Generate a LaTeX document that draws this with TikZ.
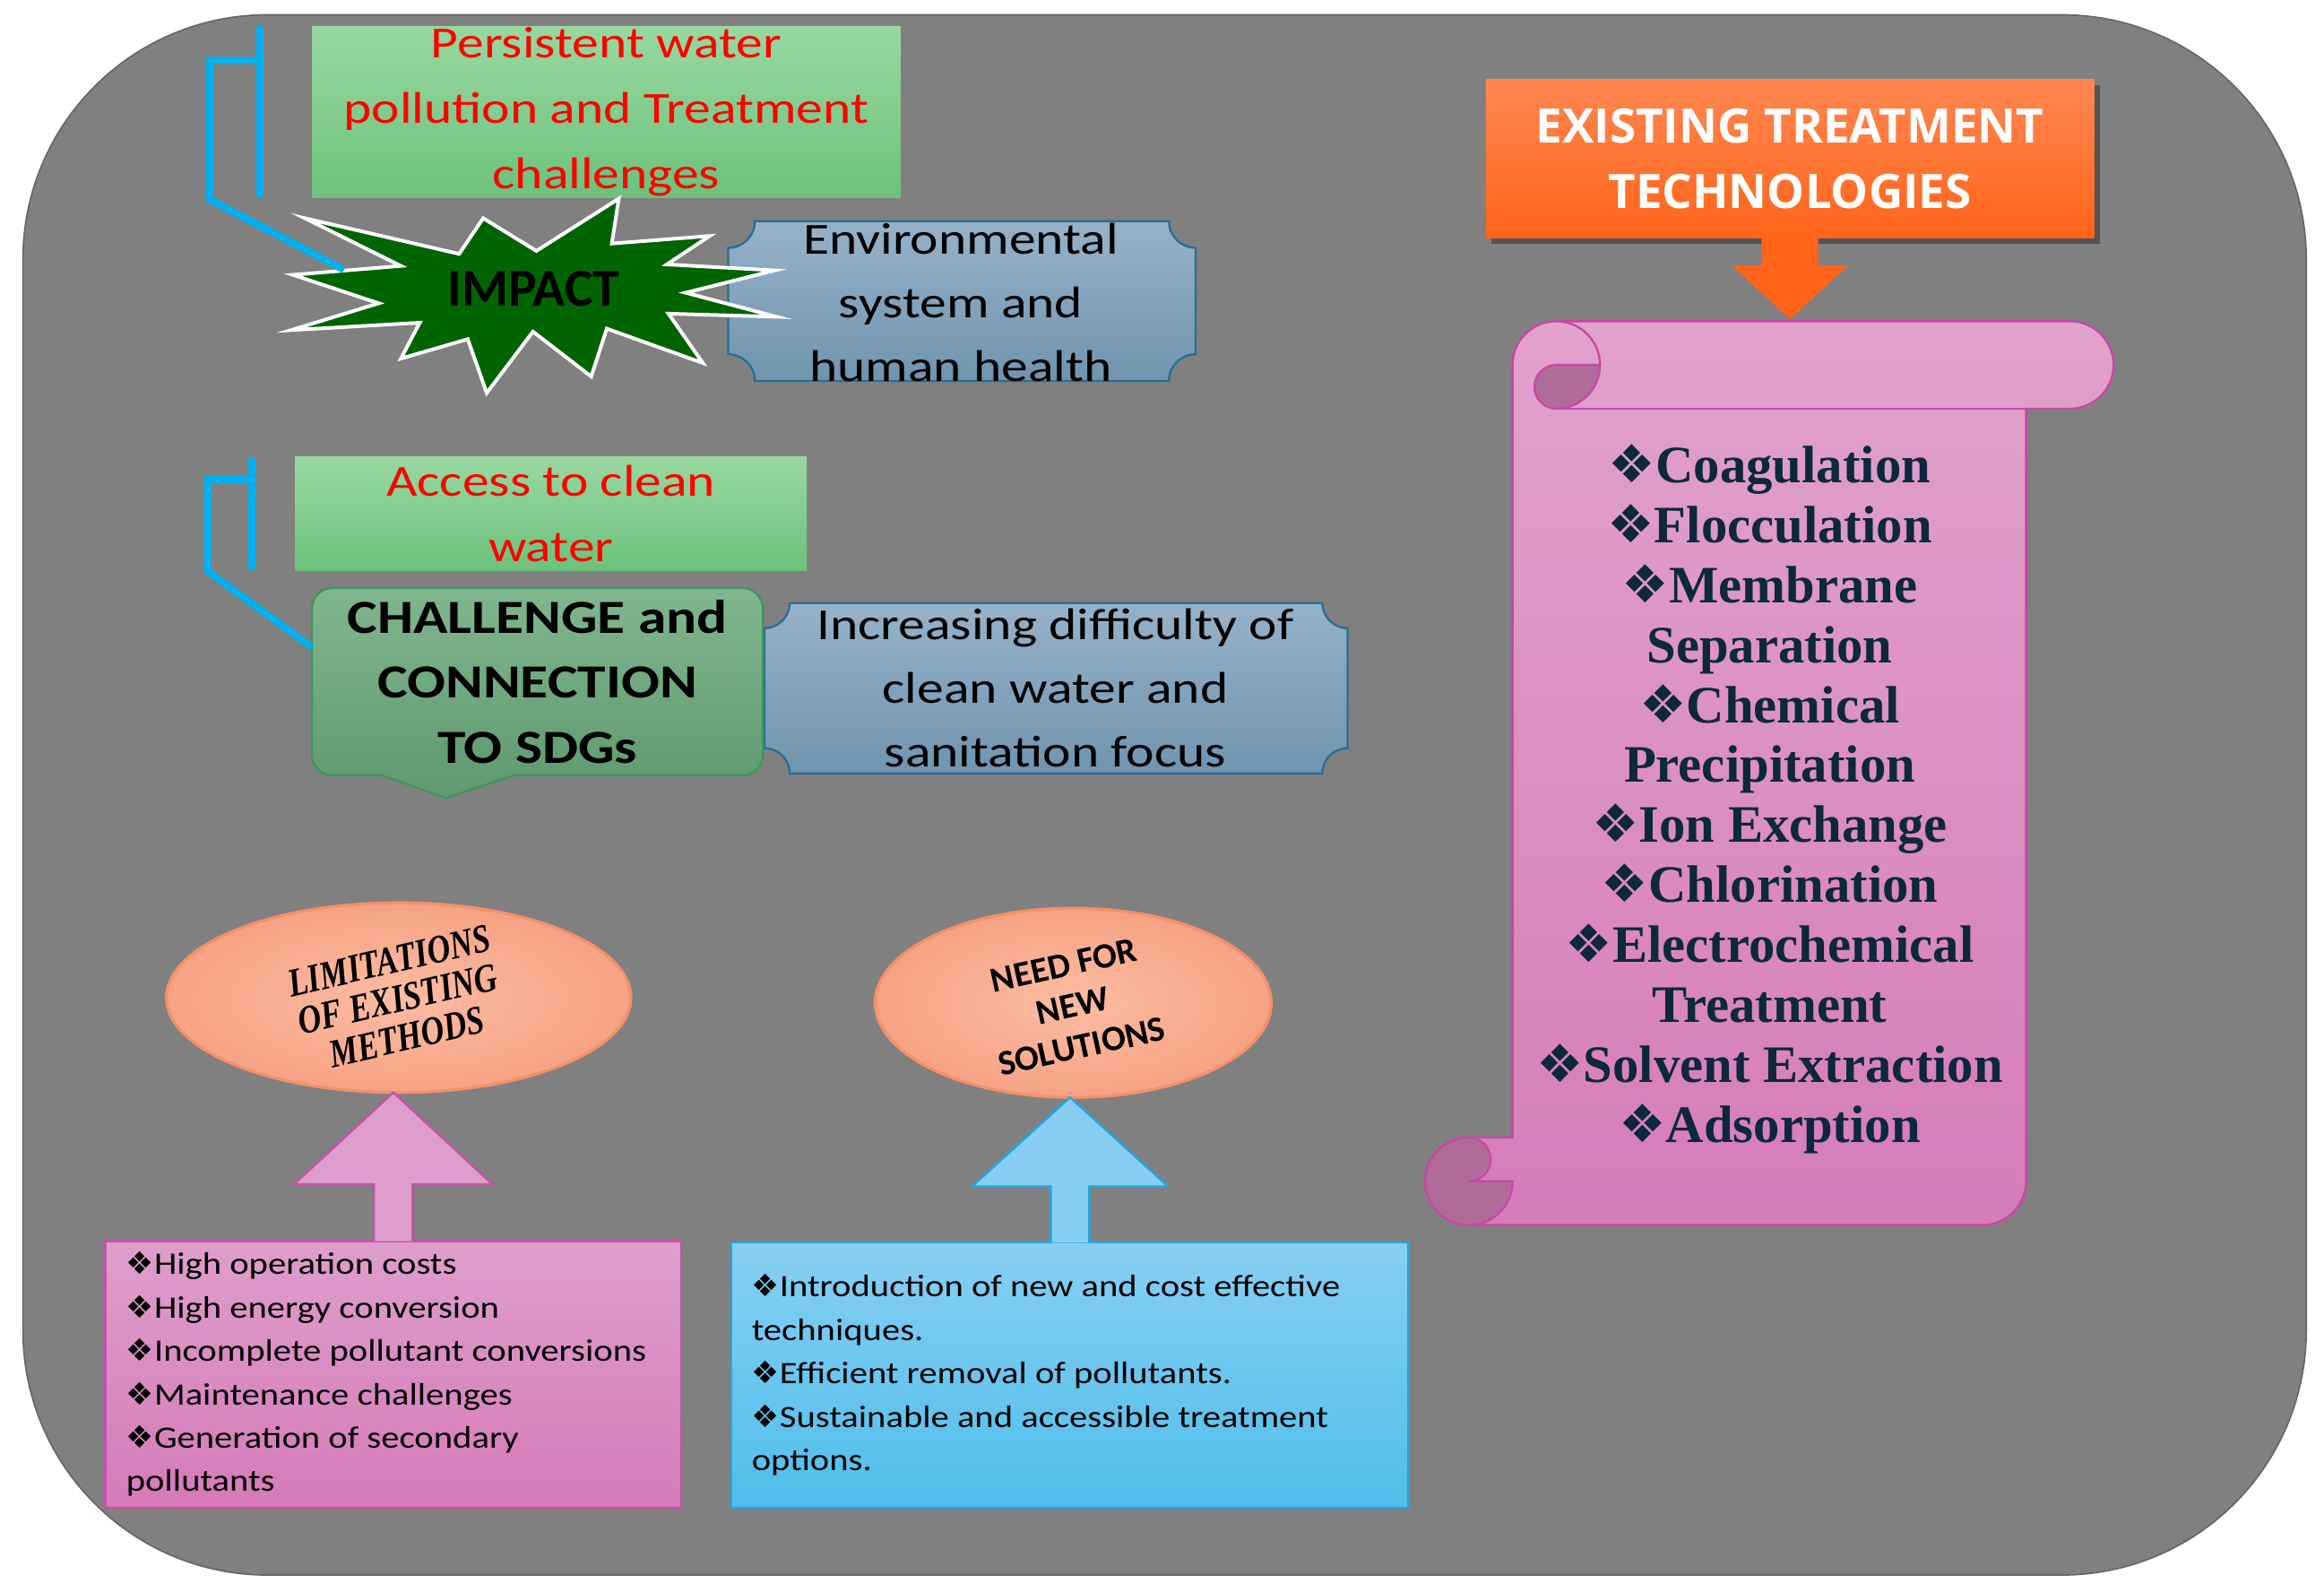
\documentclass[tikz,border=0pt]{standalone}
\usepackage{fontspec}
\setmainfont{Carlito}
\newfontfamily\carw[FakeStretch=1.2]{Carlito}
\newfontfamily\carl[FakeStretch=1.17]{Carlito}
\newfontfamily\opsans{Open Sans}
\newfontfamily\libser{Liberation Serif}
\newfontfamily\libserc[FakeStretch=0.8]{Liberation Serif}
\newfontfamily\dejavu{DejaVu Sans}
\usetikzlibrary{shapes.geometric,calc}
\definecolor{bggray}{RGB}{128,128,128}
\definecolor{greentop}{RGB}{152,216,160}
\definecolor{greenbot}{RGB}{108,194,124}
\definecolor{redtxt}{RGB}{255,0,0}
\definecolor{barblue}{RGB}{0,176,240}
\definecolor{burst}{RGB}{0,100,0}
\definecolor{plaquetop}{RGB}{150,178,200}
\definecolor{plaquebot}{RGB}{112,148,176}
\definecolor{plaqueline}{RGB}{40,110,150}
\definecolor{sdgtop}{RGB}{128,182,142}
\definecolor{sdgbot}{RGB}{98,156,114}
\definecolor{sdgline}{RGB}{60,150,90}
\definecolor{orangetop}{RGB}{255,135,80}
\definecolor{orangebot}{RGB}{255,100,25}
\definecolor{scrolltop}{RGB}{225,162,204}
\definecolor{scrollbot}{RGB}{214,124,184}
\definecolor{scrolldark}{RGB}{176,108,152}
\definecolor{scrollline}{RGB}{200,70,165}
\definecolor{navy}{RGB}{12,40,60}
\definecolor{salmon}{RGB}{247,162,132}
\definecolor{salmonin}{RGB}{252,188,162}
\definecolor{salmonline}{RGB}{242,145,105}
\definecolor{pinktop}{RGB}{222,158,204}
\definecolor{pinkbot}{RGB}{213,122,184}
\definecolor{pinkline}{RGB}{200,80,170}
\definecolor{skytop}{RGB}{135,207,242}
\definecolor{skybot}{RGB}{78,190,235}
\definecolor{skyline}{RGB}{30,168,225}
\newcommand\dia{{\dejavu ❖}}
\begin{document}
\begin{tikzpicture}[y=0.5pt, x=0.5pt, yscale=-1, inner sep=0pt, outer sep=0pt,
  greenbox/.style={rectangle, top color=greentop, bottom color=greenbot, text=redtxt, align=center, font=\carw\fontsize{15}{22}\selectfont},
  bluebar/.style={draw=barblue, line width=2.4pt, line join=miter, line cap=butt},
  impactburst/.style={fill=burst, draw=white, line width=1.2pt, line join=miter},
  plaque/.style={top color=plaquetop, bottom color=plaquebot, draw=plaqueline, line width=0.7pt},
  plaquetext/.style={align=center, font=\carw\fontsize{15}{21.5}\selectfont},
  sdgstyle/.style={rectangle, rounded corners=7pt, top color=sdgtop, bottom color=sdgbot, draw=sdgline, line width=0.7pt, align=center, font=\carw\bfseries\fontsize{16}{22}\selectfont},
  ettbox/.style={rectangle, top color=orangetop, bottom color=orangebot, text=white, align=center, font=\opsans\bfseries\fontsize{16}{22.15}\selectfont},
  scrollfill/.style={top color=scrolltop, bottom color=scrollbot, draw=scrollline, line width=0.7pt},
  curl/.style={fill=scrolldark, draw=scrollline, line width=0.7pt},
  scrolltext/.style={align=center, text=navy, font=\libser\bfseries\fontsize{17.75}{20.25}\selectfont},
  salmonell/.style={ellipse, inner color=salmonin, outer color=salmon, draw=salmonline, line width=1pt},
  pinkbox/.style={rectangle, top color=pinktop, bottom color=pinkbot, draw=pinkline, line width=0.7pt},
  skybox/.style={rectangle, top color=skytop, bottom color=skybot, draw=skyline, line width=0.7pt},
  listtext/.style={align=left, font=\carl\fontsize{10.5}{14.65}\selectfont}]
\useasboundingbox (0,0) rectangle (1568,1073.4);
\path[fill=white] (0,0) rectangle (1568,1073.4);
\path[fill=bggray, draw=black!60, line width=0.5pt, rounded corners=82.5pt] (15.5,10) rectangle (1556,1062.5);

\node[greenbox, minimum width=198.45pt, minimum height=57.7pt] (pers) at (409.05,75.4) {Persistent water\\pollution and Treatment\\challenges};
\path[plaque] (509.3,149.2) -- (788.7,149.2) arc[start angle=180, end angle=90, radius=18] -- (806.7,239) arc[start angle=270, end angle=180, radius=18] -- (509.3,257) arc[start angle=0, end angle=-90, radius=18] -- (491.3,167.2) arc[start angle=90, end angle=0, radius=18] -- cycle;
\node[plaquetext] (env) at (648.3,204) {Environmental\\system and\\human health};
\path[impactburst] (205.7,147.2) -- (309.8,171.3) -- (326.0,147.2) -- (361.9,169.3) -- (417.5,134.0) -- (412.8,164.3) -- (478.8,159.2) -- (449.9,178.4) -- (522.8,182.4) -- (462.6,197.5) -- (523.9,213.7) -- (451.0,211.6) -- (474.2,244.9) -- (409.4,221.7) -- (398.9,254.0) -- (359.6,223.7) -- (328.4,265.1) -- (315.6,228.8) -- (270.5,241.9) -- (283.2,217.7) -- (196.4,222.7) -- (255.5,204.6) -- (197.6,185.4) -- (270.5,179.4) -- cycle;
\node[font=\bfseries\fontsize{18}{20}\selectfont] (impact) at (360,195) {IMPACT};
\draw[bluebar] ($(pers.north west)+(-35,0)$) -- ($(pers.south west)+(-35,0)$);
\draw[bluebar] ($(pers.north west)+(-35,23)$) -- ++(-34,0) -- ++(0,94) -- ($(impact)+(-128,-13)$);

\node[greenbox, minimum width=172.55pt, minimum height=38.1pt] (access) at (371.75,346.5) {Access to clean\\water};
\path[plaque] (532.8,406.8) -- (892.2,406.8) arc[start angle=180, end angle=90, radius=17] -- (909.2,504.7) arc[start angle=270, end angle=180, radius=17] -- (532.8,521.7) arc[start angle=0, end angle=-90, radius=17] -- (515.8,423.8) arc[start angle=90, end angle=0, radius=17] -- cycle;
\node[plaquetext] (diff) at (712,464) {Increasing difficulty of\\clean water and\\sanitation focus};
\node[sdgstyle, minimum width=152.2pt, minimum height=63.2pt] (sdgbox) at (362.6,459.9) {CHALLENGE and\\CONNECTION\\TO SDGs};
\path[fill=sdgbot] ($(sdgbox.south)+(-104.9,-2)$) -- ($(sdgbox.south)+(-104.9,0)$) -- ($(sdgbox.south)+(-61.6,15.1)$) -- ($(sdgbox.south)+(-15.8,0)$) -- ($(sdgbox.south)+(-15.8,-2)$) -- cycle;
\draw[sdgline, line width=0.7pt] ($(sdgbox.south)+(-104.9,0)$) -- ($(sdgbox.south)+(-61.6,15.1)$) -- ($(sdgbox.south)+(-15.8,0)$);
\draw[bluebar] ($(access.north west)+(-29,0)$) -- ($(access.south west)+(-29,0)$);
\draw[bluebar] ($(access.north west)+(-29,15)$) -- ++(-30,0) -- ++(0,62) -- ($(sdgbox.north west)+(0,40)$);

\path[fill=black, opacity=0.35] (1006.5,57.7) rectangle (1416.8,164.4);
\node[ettbox, minimum width=205.15pt, minimum height=53.35pt] (ett) at (1207.65,107.05) {EXISTING TREATMENT\\TECHNOLOGIES};
\path[scrollfill] (991,826.4) -- (1337.5,826.4) arc[start angle=90, end angle=0, radius=29.5] -- (1367,275.7) -- (1396.5,275.7) arc[start angle=90, end angle=-90, radius=29.5] -- (1050,216.7) arc[start angle=270, end angle=180, radius=29.5] -- (1020.5,767.4) -- (991,767.4) arc[start angle=270, end angle=90, radius=29.5] -- cycle;
\path[curl] (991,767.4) arc[start angle=270, end angle=0, radius=29.5] -- (991,796.9) arc[start angle=90, end angle=-90, radius=14.75] -- cycle;
\path[curl] (1050,246.2) arc[start angle=270, end angle=90, radius=14.75] arc[start angle=90, end angle=0, radius=29.5] -- cycle;
\draw[scrollline, line width=0.7pt] (1079.5,246.2) arc[start angle=0, end angle=-90, radius=29.5];
\draw[scrollline, line width=0.7pt] (1050,275.7) -- (1367,275.7);
\path[fill=orangebot] ($(ett.south)+(-19,0)$) |- ($(ett.south)+(-39.5,18.5)$) -- ($(ett.south)+(0,55)$) -- ($(ett.south)+(39.5,18.5)$) -| ($(ett.south)+(19,0)$) -- cycle;
\node[scrolltext] (tech) at (1194,539) {\dia Coagulation\\\dia Flocculation\\\dia Membrane\\Separation\\\dia Chemical\\Precipitation\\\dia Ion Exchange\\\dia Chlorination\\\dia Electrochemical\\Treatment\\\dia Solvent Extraction\\\dia Adsorption};

\node[salmonell, minimum width=156.7pt, minimum height=64pt] (lim) at (269,673) {};
\node[salmonell, minimum width=133.6pt, minimum height=63.8pt] (need) at (724.1,676.5) {};
\node[rotate=13, align=center, font=\libserc\bfseries\itshape\fontsize{13.5}{13.2}\selectfont] (limtxt) at (268.5,674) {LIMITATIONS\\OF EXISTING\\METHODS};
\node[rotate=12.5, align=center, font=\bfseries\fontsize{12}{14}\selectfont] (needtxt) at (723.8,678.5) {NEED FOR\\NEW\\SOLUTIONS};

\node[pinkbox, minimum width=194.35pt, minimum height=90pt] (limbox) at (265.35,927.3) {};
\node[listtext, anchor=west] (limlist) at (85.2,927) {\dia High operation costs\\\dia High energy conversion\\\dia Incomplete pollutant conversions\\\dia Maintenance challenges\\\dia Generation of secondary\\pollutants};
\node[skybox, minimum width=228.35pt, minimum height=89.5pt] (needbox) at (721.95,927.8) {};
\node[listtext, anchor=west] (needlist) at (507.2,927.5) {\dia Introduction of new and cost effective\\techniques.\\\dia Efficient removal of pollutants.\\\dia Sustainable and accessible treatment\\options.};
\fill[pinktop] ($(limbox.north)+(-13,0)$) |- ($(lim.south -| limbox.north)+(-67,62)$) -- (lim.south -| limbox.north) -- ++(67,62) -| ($(limbox.north)+(13,0)$) -- cycle;
\draw[pinkline, line width=0.7pt] ($(limbox.north)+(-13,0)$) |- ($(lim.south -| limbox.north)+(-67,62)$) -- (lim.south -| limbox.north) -- ++(67,62) -| ($(limbox.north)+(13,0)$);
\fill[skytop] ($(needbox.north)+(-13,0)$) |- ($(need.south -| needbox.north)+(-66,60)$) -- (need.south -| needbox.north) -- ++(66,60) -| ($(needbox.north)+(13,0)$) -- cycle;
\draw[skyline, line width=0.7pt] ($(needbox.north)+(-13,0)$) |- ($(need.south -| needbox.north)+(-66,60)$) -- (need.south -| needbox.north) -- ++(66,60) -| ($(needbox.north)+(13,0)$);
\end{tikzpicture}
\end{document}
